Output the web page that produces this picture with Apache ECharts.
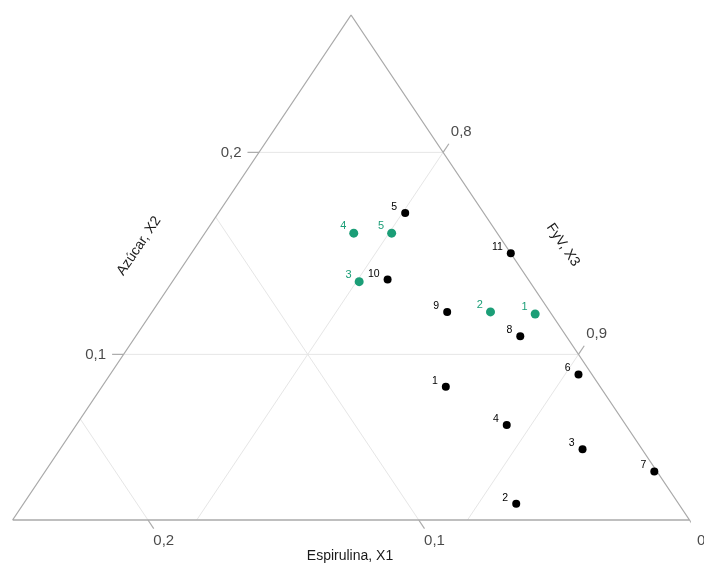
<!DOCTYPE html>
<html>
<head>
<meta charset="utf-8">
<script src="https://cdn.jsdelivr.net/npm/echarts@6/dist/echarts.min.js"></script>
<style>
  html, body { margin: 0; padding: 0; background: #fff; }
  #chart { width: 704px; height: 564px; }
</style>
</head>
<body>
<div id="chart"></div>
<script>
// lower bounds of the three components, and the width of the simplex
const lowX1 = 0, lowX2 = 0.018, lowX3 = 0.732, span = 0.25;

// black design points
const blackNames = ['1', '2', '3', '4', '5', '6', '7', '8', '9', '10', '11'];
const blackX1 = [0.057, 0.060, 0.022, 0.044, 0.029, 0.005, 0.001, 0.017, 0.038, 0.052, 0.000];
const blackX2 = [0.084, 0.026, 0.053, 0.065, 0.170, 0.090, 0.042, 0.109, 0.121, 0.137, 0.150];
const blackX3 = [0.859, 0.914, 0.925, 0.891, 0.801, 0.905, 0.957, 0.874, 0.841, 0.811, 0.850];

// green points
const greenNames = ['1', '2', '3', '4', '5'];
const greenX1 = [0.006, 0.022, 0.063, 0.053, 0.039];
const greenX2 = [0.120, 0.121, 0.136, 0.160, 0.160];
const greenX3 = [0.874, 0.857, 0.801, 0.787, 0.801];

// axis ticks
const x1Ticks = [0, 0.1, 0.2];
const x2Ticks = [0.1, 0.2];
const x3Ticks = [0.8, 0.9];

const tickLen = 0.017;
const edgeColor = '#aaaaaa';
const gridColor = '#e6e6e6';
const green = '#1b9e77';

// pseudo components -> plane (left vertex u1=1, top u2=1, right u3=1)
function fromU(u1, u2, u3) {
    return [u3 + u2 / 2, u2];
}
function toPlane(x1, x2, x3) {
    return fromU((x1 - lowX1) / span, (x2 - lowX2) / span, (x3 - lowX3) / span);
}
function fmt(v) {
    return String(v).replace('.', ',');
}

let series = [];
function addLine(pts, color, width) {
    series.push({
        type: 'line', data: pts, symbol: 'none', silent: true, clip: false,
        lineStyle: {color: color, width: width}, z: 1
    });
}

// grid lines and ticks
let tickLabels = [];
x2Ticks.forEach(v => {
    let u2 = (v - lowX2) / span;
    addLine([fromU(1 - u2, u2, 0), fromU(0, u2, 1 - u2)], gridColor, 1);
    let end = fromU(1 - u2 + tickLen, u2, -tickLen);
    addLine([fromU(1 - u2, u2, 0), end], edgeColor, 1.2);
    tickLabels.push({value: end, name: fmt(v), label: {position: 'left', distance: 6, offset: [0, 0]}});
});
x3Ticks.forEach(v => {
    let u3 = (v - lowX3) / span;
    addLine([fromU(1 - u3, 0, u3), fromU(0, 1 - u3, u3)], gridColor, 1);
    let end = fromU(-tickLen, 1 - u3 + tickLen, u3);
    addLine([fromU(0, 1 - u3, u3), end], edgeColor, 1.2);
    tickLabels.push({value: end, name: fmt(v), label: {position: 'right', distance: 2, offset: [0, -12]}});
});
x1Ticks.forEach(v => {
    let u1 = (v - lowX1) / span;
    if (v > 0) addLine([fromU(u1, 0, 1 - u1), fromU(u1, 1 - u1, 0)], gridColor, 1);
    let end = fromU(u1, -tickLen, 1 - u1 + tickLen);
    addLine([fromU(u1, 0, 1 - u1), end], edgeColor, 1.2);
    tickLabels.push({value: end, name: fmt(v), label: {position: 'bottom', distance: 5, offset: [v > 0 ? 10 : 6, 0]}});
});

// triangle outline
let corners = [toPlane(lowX1 + span, lowX2, lowX3), toPlane(lowX1, lowX2, lowX3 + span), toPlane(lowX1, lowX2 + span, lowX3)];
addLine([corners[0], corners[1], corners[2], corners[0]], edgeColor, 1.3);

series.push({
    type: 'scatter', symbolSize: 0, silent: true, z: 3, clip: false,
    data: tickLabels,
    label: {show: true, formatter: '{b}', color: '#1a1a1a', fontSize: 15, fontFamily: 'Liberation Sans'}
});

series.push({
    type: 'scatter', symbolSize: 8, z: 5, clip: false,
    itemStyle: {color: '#000', opacity: 1},
    data: blackNames.map((n, i) => ({name: n, value: toPlane(blackX1[i], blackX2[i], blackX3[i])})),
    label: {show: true, formatter: '{b}', position: 'left', distance: 4, offset: [0, -6],
        color: '#000', fontSize: 10.5, fontFamily: 'Liberation Sans'}
});
series.push({
    type: 'scatter', symbolSize: 9, z: 5, clip: false,
    itemStyle: {color: green, opacity: 1},
    data: greenNames.map((n, i) => ({name: n, value: toPlane(greenX1[i], greenX2[i], greenX3[i])})),
    label: {show: true, formatter: '{b}', position: 'left', distance: 3, offset: [0, -7],
        color: green, fontSize: 11, fontFamily: 'Liberation Sans'}
});

let myChart = echarts.init(document.getElementById('chart'));
myChart.setOption({
    animation: false,
    backgroundColor: '#fff',
    grid: {left: 12.6, right: 14.5, top: 15, bottom: 44},
    xAxis: {type: 'value', min: 0, max: 1, show: false},
    yAxis: {type: 'value', min: 0, max: 1, show: false},
    graphic: [
        {type: 'text', x: 139, y: 246, rotation: 56 * Math.PI / 180,
            style: {text: 'Azúcar, X2', align: 'center', verticalAlign: 'middle', fill: '#1a1a1a', font: '14px "Liberation Sans"'}},
        {type: 'text', x: 563, y: 245, rotation: -56 * Math.PI / 180,
            style: {text: 'FyV, X3', align: 'center', verticalAlign: 'middle', fill: '#1a1a1a', font: '14px "Liberation Sans"'}},
        {type: 'text', x: 350, y: 556,
            style: {text: 'Espirulina, X1', align: 'center', verticalAlign: 'middle', fill: '#1a1a1a', font: '14px "Liberation Sans"'}}
    ],
    series: series
});
</script>
</body>
</html>
